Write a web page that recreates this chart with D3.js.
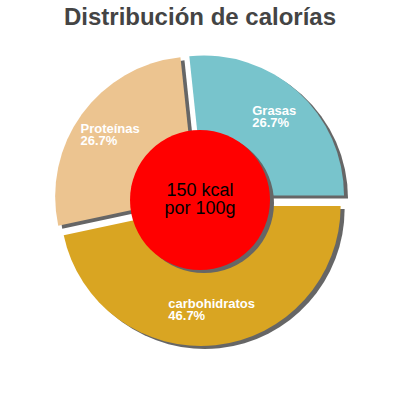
<!DOCTYPE html>
<html>
<head>
<meta charset="utf-8">
<script src="https://cdn.jsdelivr.net/npm/d3@7"></script>
<style>
  body { margin: 0; background: #fff; }
  svg { display: block; font-family: "Liberation Sans", Arial, sans-serif; }
</style>
</head>
<body>
<svg id="chart" width="400" height="400"></svg>
<script>
// nutrient shares of energy, in drawing order (counter-clockwise from 3 o'clock)
const categories = ["Grasas", "Proteínas", "carbohidratos"];
const percents = [26.7, 26.7, 46.7];
const colors = ["#78c4cc", "#ecc490", "#d9a522"];
const title = "Distribución de calorías";
const centerLines = ["150 kcal", "por 100g"];

const svg = d3.select("#chart");
const width = 400, height = 400;
const cx = 200, cy = 200;
const radius = 140, holeRadius = 70, explode = 6;
const shadow = { dx: 4, dy: 3, color: "#666" };

svg.append("text")
  .attr("x", width / 2)
  .attr("y", 25)
  .attr("text-anchor", "middle")
  .attr("font-size", 24)
  .attr("font-weight", "bold")
  .attr("fill", "#444")
  .text(title);

const data = categories.map((c, i) => ({ name: c, value: percents[i], color: colors[i] }));

// start at 3 o'clock and run counter-clockwise
const pie = d3.pie()
  .sort(null)
  .value(d => d.value)
  .startAngle(Math.PI / 2)
  .endAngle(Math.PI / 2 - 2 * Math.PI);

const arcs = pie(data);
const arc = d3.arc().innerRadius(0).outerRadius(radius);
const labelArc = d3.arc().innerRadius(holeRadius).outerRadius(radius);

const offset = d => {
  const mid = (d.startAngle + d.endAngle) / 2;
  return [Math.sin(mid) * explode, -Math.cos(mid) * explode];
};

const g = svg.append("g").attr("transform", `translate(${cx},${cy})`);

// shadows first
g.selectAll(".shadow")
  .data(arcs)
  .enter()
  .append("path")
    .attr("class", "shadow")
    .attr("d", arc)
    .attr("fill", shadow.color)
    .attr("transform", d => {
      const [ox, oy] = offset(d);
      return `translate(${ox + shadow.dx},${oy + shadow.dy})`;
    });

g.selectAll(".slice")
  .data(arcs)
  .enter()
  .append("path")
    .attr("class", "slice")
    .attr("d", arc)
    .attr("fill", d => d.data.color)
    .attr("transform", d => {
      const [ox, oy] = offset(d);
      return `translate(${ox},${oy})`;
    });

// centre disc
g.append("circle")
  .attr("cx", shadow.dx)
  .attr("cy", shadow.dy)
  .attr("r", holeRadius)
  .attr("fill", shadow.color);

g.append("circle")
  .attr("r", holeRadius)
  .attr("fill", "#ff0000");

g.append("text")
  .attr("text-anchor", "middle")
  .attr("font-size", 18)
  .attr("fill", "#000")
  .selectAll("tspan")
  .data(centerLines)
  .enter()
  .append("tspan")
    .attr("x", 0)
    .attr("y", (d, i) => -4 + i * 18)
    .text(d => d);

// slice labels: left-aligned block centred on the centroid
const labels = g.selectAll(".label")
  .data(arcs)
  .enter()
  .append("g")
    .attr("class", "label")
    .attr("transform", d => {
      const [ox, oy] = offset(d);
      const [lx, ly] = labelArc.centroid(d);
      return `translate(${lx + ox},${ly + oy})`;
    });

labels.each(function(d) {
  const lg = d3.select(this);
  const t = lg.append("text")
    .attr("font-size", 13)
    .attr("font-weight", "bold")
    .attr("fill", "#fff");
  const l1 = t.append("tspan").attr("y", -2).text(d.data.name);
  const l2 = t.append("tspan").attr("y", 10).text(d3.format(".1f")(d.data.value) + "%");
  const w = Math.max(l1.node().getComputedTextLength(), l2.node().getComputedTextLength());
  l1.attr("x", -w / 2);
  l2.attr("x", -w / 2);
});
</script>
</body>
</html>
